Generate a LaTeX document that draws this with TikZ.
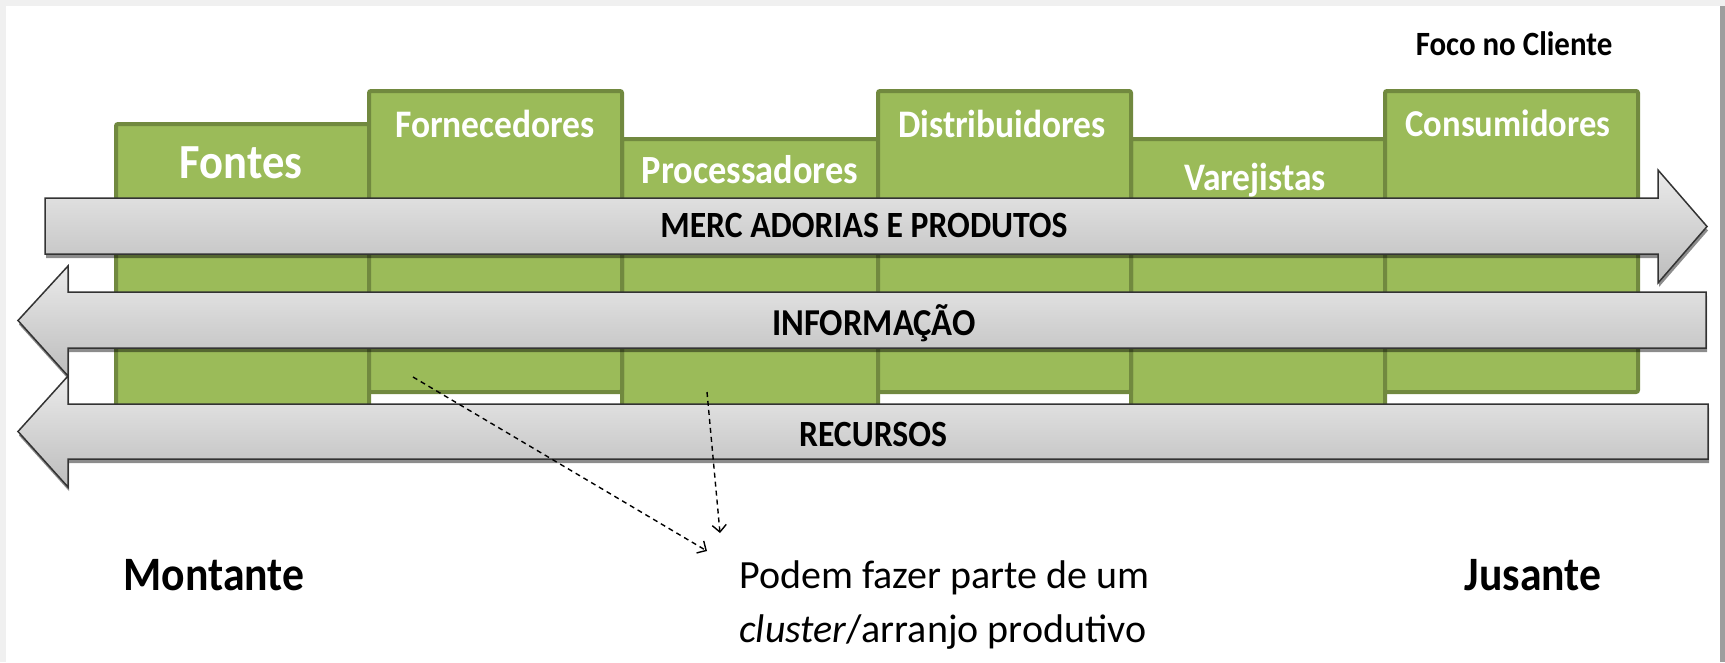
\documentclass[tikz,border=0pt]{standalone}
\usepackage{fontspec}
\setmainfont{Carlito}[FakeStretch=0.91]
\newfontfamily\plainfont{Carlito}
\usetikzlibrary{arrows.meta,shadows}
\definecolor{boxfill}{HTML}{9BBB59}
\definecolor{boxline}{HTML}{71893F}
\begin{document}
\begin{tikzpicture}[x=1pt,y=-1pt,
  stage/.style={draw=boxline, line width=4pt, fill=boxfill, rounded corners=2pt, anchor=north west, inner sep=0pt, outer sep=0pt},
  stagelabel/.style={text=white, font=\bfseries\fontsize{39}{44}\selectfont, anchor=base, inner sep=0pt},
  flow/.style={draw=black!80, line width=1.5pt, top color=black!8, bottom color=black!26,
    drop shadow={shadow xshift=1pt, shadow yshift=-4pt, opacity=0.45, fill=black}},
  flowlabel/.style={font=\bfseries\fontsize{37}{42}\selectfont, anchor=base, inner sep=0pt},
  sidelabel/.style={font=\bfseries\fontsize{47}{52}\selectfont, anchor=base, inner sep=0pt},
  notelabel/.style={font=\plainfont\fontsize{40}{48}\selectfont, anchor=base west, inner sep=0pt},
  link/.style={dash pattern=on 5pt off 4pt, line width=1.4pt, -{Straight Barb[length=7pt,width=14pt]}}
]
% frame
\fill[black!6] (0,0) rectangle (1725,662);
\fill[white] (6,6) rectangle (1720,662);
\fill[black!38] (1720,6) rectangle (1725,662);
\useasboundingbox (0,0) rectangle (1725,662);

% stages
\node[stage, minimum width=253pt, minimum height=286pt] (fontes) at (116,124) {};
\node[stage, minimum width=256pt, minimum height=271pt] (procs) at (622,139) {};
\node[stage, minimum width=254pt, minimum height=271pt] (varej) at (1131,139) {};
\node[stage, minimum width=253pt, minimum height=301pt] (forn) at (369,91) {};
\node[stage, minimum width=253pt, minimum height=301pt] (distr) at (878,91) {};
\node[stage, minimum width=253pt, minimum height=301pt] (consu) at (1385,91) {};

\node[stagelabel, font=\bfseries\fontsize{49}{54}\selectfont] (tfontes) at (241,178) {Fontes};
\node[stagelabel] (tforn) at (495,137) {Fornecedores};
\node[stagelabel, font=\bfseries\fontsize{40}{44}\selectfont] (tprocs) at (750,183) {Processadores};
\node[stagelabel] (tdistr) at (1002,137) {Distribuidores};
\node[stagelabel] (tvarej) at (1255,190) {Varejistas};
\node[stagelabel, font=\bfseries\fontsize{38}{44}\selectfont] (tconsu) at (1508,136) {Consumidores};

\node[flowlabel, font=\bfseries\fontsize{34}{40}\selectfont] (foco) at (1514,55) {Foco no Cliente};

% flows
\path[flow] (45,198) -- (1658,198) -- (1658,170) -- (1707,226.5) -- (1658,283) -- (1658,254) -- (45,254) -- cycle;
\node[flowlabel] (tmerc) at (864,237) {MERC ADORIAS E PRODUTOS};

\path[flow] (1706,292) -- (68,292) -- (68,266) -- (18,320.5) -- (68,376) -- (68,348) -- (1706,348) -- cycle;
\node[flowlabel, font=\bfseries\fontsize{38}{42}\selectfont] (tinfo) at (874,335) {INFORMAÇÃO};

\path[flow] (1708,404) -- (68,404) -- (68,376) -- (18,431.5) -- (68,487) -- (68,459) -- (1708,459) -- cycle;
\node[flowlabel] (trec) at (873,446) {RECURSOS};

% bottom labels
\node[sidelabel, font=\bfseries\fontsize{48}{52}\selectfont] (mont) at (214,590) {Montante};
\node[sidelabel, font=\bfseries\fontsize{48}{52}\selectfont] (jus) at (1533,590) {Jusante};
\node[notelabel] (note1) at (739,588) {Podem fazer parte de um};
\node[notelabel] (note2) at (739,642) {\textit{cluster}/arranjo produtivo};

% dashed links
\coordinate (s1) at (413,377);
\coordinate (s2) at (707,392);
\coordinate (e1) at (707,551);
\coordinate (e2) at (720,533);
\draw[link] (s1) -- (e1);
\draw[link] (s2) -- (e2);
\end{tikzpicture}
\end{document}
